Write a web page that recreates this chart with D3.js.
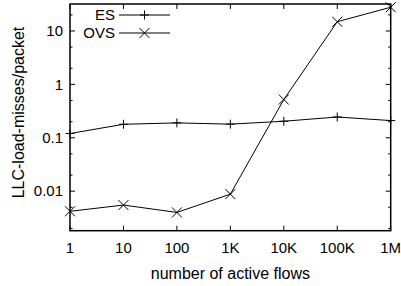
<!DOCTYPE html>
<html>
<head>
<meta charset="utf-8">
<script src="https://cdn.jsdelivr.net/npm/d3@7"></script>
<style>
  body { margin: 0; background: #fff; }
  svg text { font-family: "Liberation Sans", Arial, sans-serif; fill: #000; }
</style>
</head>
<body>
<div id="chart"></div>
<script>
const flows = [1, 10, 100, 1e3, 1e4, 1e5, 1e6];
const flowLabels = ['1', '10', '100', '1K', '10K', '100K', '1M'];
const esValues = [0.12, 0.179, 0.19, 0.18, 0.204, 0.245, 0.21];
const ovsValues = [0.0042, 0.0055, 0.0040, 0.0088, 0.52, 14.9, 27.8];
const yTicks = [0.01, 0.1, 1, 10];
const yTickLabels = ['0.01', '0.1', '1', '10'];
const yMinor = [0.002, 0.005, 0.02, 0.05, 0.2, 0.5, 2, 5, 20];

const width = 401;
const height = 286;
const plot = { left: 70, right: 390.7, top: 4, bottom: 230.7 };
const tickFont = 15;
const titleFont = 16;

const svg = d3.select('#chart')
  .append('svg')
  .attr('width', width)
  .attr('height', height);

const x = d3.scaleLog()
  .domain([1, 1e6])
  .range([plot.left, plot.right]);

const y = d3.scaleLog()
  .domain([0.00182, 32])
  .range([plot.bottom, plot.top]);

// ticks, mirrored on all four sides, pointing inwards
const ticks = svg.append('g').attr('stroke', '#000').attr('stroke-width', 1);
flows.forEach(f => {
  ticks.append('line')
    .attr('x1', x(f)).attr('x2', x(f))
    .attr('y1', plot.bottom).attr('y2', plot.bottom - 5);
  ticks.append('line')
    .attr('x1', x(f)).attr('x2', x(f))
    .attr('y1', plot.top).attr('y2', plot.top + 5);
});
yTicks.forEach(v => {
  ticks.append('line')
    .attr('x1', plot.left).attr('x2', plot.left + 5)
    .attr('y1', y(v)).attr('y2', y(v));
  ticks.append('line')
    .attr('x1', plot.right).attr('x2', plot.right - 5)
    .attr('y1', y(v)).attr('y2', y(v));
});
yMinor.forEach(v => {
  ticks.append('line')
    .attr('x1', plot.left).attr('x2', plot.left + 2.5)
    .attr('y1', y(v)).attr('y2', y(v));
  ticks.append('line')
    .attr('x1', plot.right).attr('x2', plot.right - 2.5)
    .attr('y1', y(v)).attr('y2', y(v));
});

// tick labels
svg.append('g')
  .selectAll('text')
  .data(flows)
  .enter()
  .append('text')
  .attr('x', d => x(d))
  .attr('y', 248)
  .attr('dy', '0.35em')
  .attr('text-anchor', 'middle')
  .attr('font-size', tickFont)
  .text((d, i) => flowLabels[i]);

svg.append('g')
  .selectAll('text')
  .data(yTicks)
  .enter()
  .append('text')
  .attr('x', 63)
  .attr('y', d => y(d))
  .attr('dy', '0.35em')
  .attr('text-anchor', 'end')
  .attr('font-size', tickFont)
  .text((d, i) => yTickLabels[i]);

// axis titles
svg.append('text')
  .attr('x', (plot.left + plot.right) / 2)
  .attr('y', 273)
  .attr('dy', '0.35em')
  .attr('text-anchor', 'middle')
  .attr('font-size', titleFont)
  .text('number of active flows');

svg.append('text')
  .attr('transform', 'translate(18,112.5) rotate(-90)')
  .attr('dy', '0.35em')
  .attr('text-anchor', 'middle')
  .attr('font-size', titleFont)
  .text('LLC-load-misses/packet');

// series
const line = d3.line()
  .x((d, i) => x(flows[i]))
  .y(d => y(d));

const plus = (g, cx, cy, s) => {
  g.append('path')
    .attr('d', `M${cx - s},${cy}H${cx + s}M${cx},${cy - s}V${cy + s}`);
};
const cross = (g, cx, cy, s) => {
  g.append('path')
    .attr('d', `M${cx - s},${cy - s}L${cx + s},${cy + s}M${cx - s},${cy + s}L${cx + s},${cy - s}`);
};

const series = [
  { name: 'ES', values: esValues, marker: plus, size: 4.5 },
  { name: 'OVS', values: ovsValues, marker: cross, size: 5 }
];

series.forEach((s, k) => {
  const g = svg.append('g')
    .attr('fill', 'none')
    .attr('stroke', '#000')
    .attr('stroke-width', 1);
  g.append('path').attr('d', line(s.values));
  s.values.forEach((v, i) => s.marker(g, x(flows[i]), y(v), s.size));

  // legend entry
  const ly = 15 + k * 18;
  svg.append('text')
    .attr('x', 115)
    .attr('y', ly)
    .attr('dy', '0.35em')
    .attr('text-anchor', 'end')
    .attr('font-size', tickFont)
    .text(s.name);
  g.append('line')
    .attr('x1', 119).attr('x2', 170)
    .attr('y1', ly).attr('y2', ly);
  s.marker(g, 144.5, ly, s.size);
});

// border
svg.append('rect')
  .attr('x', plot.left)
  .attr('y', plot.top)
  .attr('width', plot.right - plot.left)
  .attr('height', plot.bottom - plot.top)
  .attr('fill', 'none')
  .attr('stroke', '#000')
  .attr('stroke-width', 1.5);
</script>
</body>
</html>
